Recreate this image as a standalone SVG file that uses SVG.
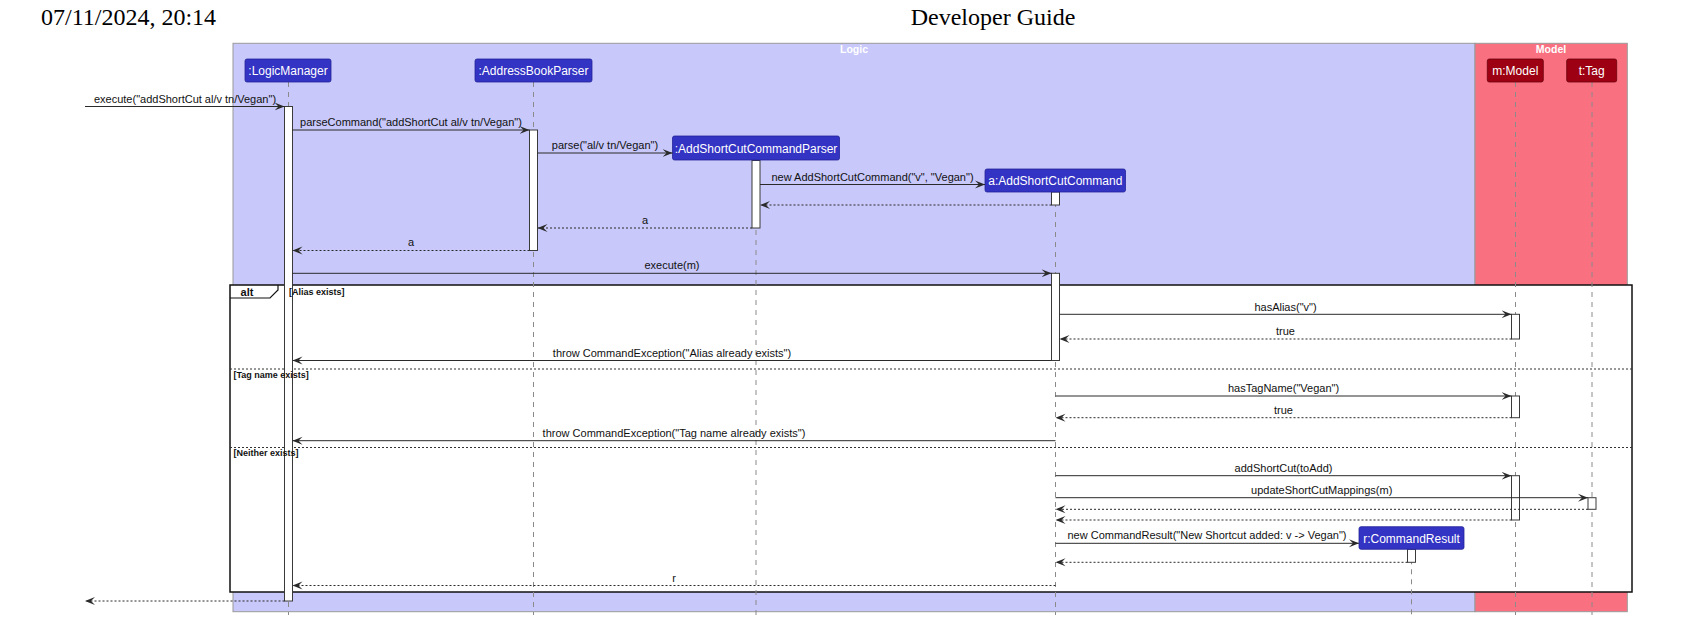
<svg xmlns="http://www.w3.org/2000/svg" width="1692" height="642" viewBox="0 0 1692 642">
<style>
.hdr{font-family:"Liberation Serif","Times New Roman",serif;font-size:24px;fill:#000}
.boxt{font-family:"Liberation Sans",Arial,sans-serif;font-size:10.5px;font-weight:bold;fill:#fff;text-anchor:middle}
.pl rect.p{fill:#3333C4;stroke:#25259a;stroke-width:0.8}
.pm rect.p{fill:#9D0012;stroke:#6a000c;stroke-width:0.8}
.pt{font-family:"Liberation Sans",Arial,sans-serif;font-size:12px;fill:#fff;text-anchor:middle}
.life{stroke:#8a8a8a;stroke-width:1;stroke-dasharray:5,5;fill:none}
.act{fill:#fff;stroke:#3a3a3a;stroke-width:1}
.msg{stroke:#2a2a2a;stroke-width:1;fill:none;marker-end:url(#ah)}
.ret{stroke:#2a2a2a;stroke-width:1;stroke-dasharray:2,2;fill:none;marker-end:url(#ah)}
.lbl{font-family:"Liberation Sans",Arial,sans-serif;font-size:11px;fill:#111;text-anchor:middle}
.grd{font-family:"Liberation Sans",Arial,sans-serif;font-size:9px;font-weight:bold;fill:#111}
.sep{stroke:#333;stroke-width:1;stroke-dasharray:2,2;fill:none}
</style>
<defs>
<marker id="ah" markerUnits="userSpaceOnUse" markerWidth="11" markerHeight="9" refX="10" refY="4.5" orient="auto" viewBox="0 0 11 9">
<path d="M0,0.5 L10,4.5 L0,8.5 L4,4.5 Z" fill="#2a2a2a"/>
</marker>
</defs>
<rect x="0" y="0" width="1692" height="642" fill="#fff"/>
<text class="hdr" x="41" y="25">07/11/2024, 20:14</text>
<text class="hdr" x="993" y="25" text-anchor="middle">Developer Guide</text>

<g id="box-logic">
<rect x="233" y="43.3" width="1242" height="568.4" fill="#C8C8FA" stroke="#9a9a9a" stroke-width="1"/>
<text class="boxt" x="854" y="53">Logic</text>
</g>
<g id="box-model">
<rect x="1475" y="43.3" width="152.3" height="568.4" fill="#F97181" stroke="#9a9a9a" stroke-width="1"/>
<text class="boxt" x="1551" y="53">Model</text>
</g>

<g id="alt-frame">
<rect x="230" y="285" width="1402" height="307" fill="#fff" stroke="#111" stroke-width="1.5"/>
<path d="M230,298 H270 L278,290 V285" fill="none" stroke="#111" stroke-width="1.2"/>
<text x="247" y="295.5" text-anchor="middle" style="font-family:'Liberation Sans',Arial,sans-serif;font-size:11px;font-weight:bold;fill:#111">alt</text>
<path class="sep" d="M230,369 H1632"/>
<path class="sep" d="M230,447.5 H1632"/>
</g>

<g id="LogicManager" class="pl">
<path class="life" d="M288.5,82 V615"/>
<rect class="act" x="284.5" y="106.5" width="8" height="494.5"/>
<rect class="p" x="245" y="59" width="86" height="23" rx="2"/>
<text class="pt" x="288" y="75">:LogicManager</text>
</g>
<g id="AddressBookParser" class="pl">
<path class="life" d="M533.5,82 V615"/>
<rect class="act" x="529.5" y="130" width="8" height="120.5"/>
<rect class="p" x="475" y="59" width="117" height="23" rx="2"/>
<text class="pt" x="533.5" y="75">:AddressBookParser</text>
</g>
<g id="AddShortCutCommandParser" class="pl">
<path class="life" d="M756,160 V615"/>
<rect class="act" x="752" y="160.5" width="8" height="67.5"/>
<rect class="p" x="672.5" y="136" width="167" height="24" rx="2"/>
<text class="pt" x="756" y="152.5">:AddShortCutCommandParser</text>
</g>
<g id="AddShortCutCommand" class="pl">
<path class="life" d="M1055.5,192 V615"/>
<rect class="act" x="1051.5" y="192" width="8" height="13"/>
<rect class="act" x="1051.5" y="273.3" width="8" height="87.2"/>
<rect class="p" x="985" y="169" width="140.5" height="23" rx="2"/>
<text class="pt" x="1055.3" y="185">a:AddShortCutCommand</text>
</g>
<g id="CommandResult" class="pl">
<path class="life" d="M1411.5,549.3 V615"/>
<rect class="act" x="1407.5" y="549.3" width="8" height="13"/>
<rect class="p" x="1359" y="526.7" width="105" height="22.6" rx="2"/>
<text class="pt" x="1411.5" y="542.5">r:CommandResult</text>
</g>
<g id="Model" class="pm">
<path class="life" d="M1515.5,82 V615"/>
<rect class="act" x="1511.5" y="314.3" width="8" height="24.7"/>
<rect class="act" x="1511.5" y="396" width="8" height="21.7"/>
<rect class="act" x="1511.5" y="475.7" width="8" height="44.3"/>
<rect class="p" x="1487.3" y="59" width="56" height="23" rx="2"/>
<text class="pt" x="1515.3" y="75">m:Model</text>
</g>
<g id="Tag" class="pm">
<path class="life" d="M1592,82 V615"/>
<rect class="act" x="1588" y="497.7" width="8" height="11.6"/>
<rect class="p" x="1566.7" y="59" width="50" height="23" rx="2"/>
<text class="pt" x="1591.7" y="75">t:Tag</text>
</g>

<g id="alt-guards">
<text class="grd" x="289" y="295">[Alias exists]</text>
<text class="grd" x="233.5" y="377.5">[Tag name exists]</text>
<text class="grd" x="233.5" y="456">[Neither exists]</text>
</g>

<g id="connectors">
<path class="msg" d="M85,106.5 H284.5"/>
<text class="lbl" x="185" y="102.5">execute("addShortCut al/v tn/Vegan")</text>
<path class="msg" d="M292.5,130 H529.5"/>
<text class="lbl" x="411" y="126">parseCommand("addShortCut al/v tn/Vegan")</text>
<path class="msg" d="M537.5,153 H672.5"/>
<text class="lbl" x="605" y="149">parse("al/v tn/Vegan")</text>
<path class="msg" d="M760,184.5 H985"/>
<text class="lbl" x="872.5" y="180.5">new AddShortCutCommand("v", "Vegan")</text>
<path class="ret" d="M1051.5,205 H760"/>
<path class="ret" d="M752,228 H537.5"/>
<text class="lbl" x="645" y="223.5">a</text>
<path class="ret" d="M529.5,250.5 H292.5"/>
<text class="lbl" x="411" y="246">a</text>
<path class="msg" d="M292.5,273.3 H1051.5"/>
<text class="lbl" x="672" y="269.3">execute(m)</text>
<path class="msg" d="M1059.5,314.3 H1511.5"/>
<text class="lbl" x="1285.5" y="310.5">hasAlias("v")</text>
<path class="ret" d="M1511.5,339 H1059.5"/>
<text class="lbl" x="1285.5" y="335">true</text>
<path class="msg" d="M1051.5,360.5 H292.5"/>
<text class="lbl" x="672" y="356.5">throw CommandException("Alias already exists")</text>
<path class="msg" d="M1055.5,396 H1511.5"/>
<text class="lbl" x="1283.5" y="392">hasTagName("Vegan")</text>
<path class="ret" d="M1511.5,417.7 H1055.5"/>
<text class="lbl" x="1283.5" y="413.7">true</text>
<path class="msg" d="M1055.5,440.7 H292.5"/>
<text class="lbl" x="674" y="436.7">throw CommandException("Tag name already exists")</text>
<path class="msg" d="M1055.5,475.7 H1511.5"/>
<text class="lbl" x="1283.5" y="471.7">addShortCut(toAdd)</text>
<path class="msg" d="M1055.5,497.7 H1588"/>
<text class="lbl" x="1321.7" y="493.7">updateShortCutMappings(m)</text>
<path class="ret" d="M1588,509.3 H1055.5"/>
<path class="ret" d="M1511.5,520 H1055.5"/>
<path class="msg" d="M1055.5,543.3 H1359"/>
<text class="lbl" x="1207" y="539.3">new CommandResult("New Shortcut added: v -&gt; Vegan")</text>
<path class="ret" d="M1407.5,562.3 H1055.5"/>
<path class="ret" d="M1055.5,585.5 H292.5"/>
<text class="lbl" x="674" y="581.5">r</text>
<path class="ret" d="M284.5,601 H85"/>
</g>
</svg>
